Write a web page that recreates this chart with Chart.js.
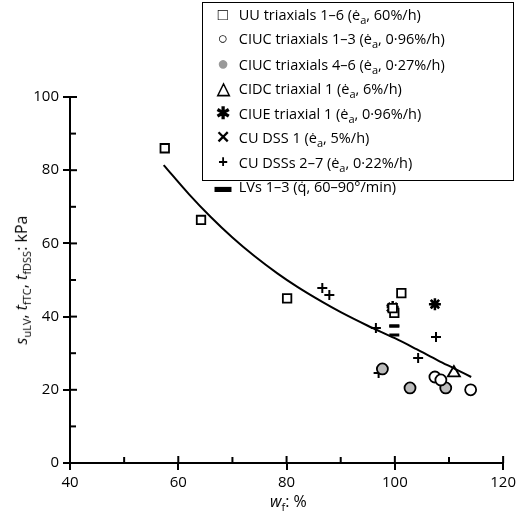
<!DOCTYPE html>
<html><head><meta charset="utf-8">
<script src="https://cdn.jsdelivr.net/npm/chart.js@4"></script>
<style>
body{margin:0;background:#fff;font-family:"Open Sans",sans-serif;}
#wrap{position:relative;width:520px;height:517px;}
#legend{position:absolute;left:202px;top:2px;width:312px;height:179px;border:1.5px solid #000;background:#fff;box-sizing:border-box;padding:2px 0 0 8px;font-size:14.5px;line-height:19.6px;color:#000;}
#legend div{white-space:nowrap;}
#legend span.m{display:inline-block;width:24px;text-align:center;font-weight:bold;font-size:17px;line-height:17px;}
.yt{position:absolute;left:-88px;top:268px;width:220px;text-align:center;transform:rotate(-90deg);font-size:16px;}
.xt{position:absolute;left:270px;top:490px;font-size:16px;}
sub{font-size:11px;}
</style></head><body>
<div id="wrap"><canvas id="c" width="520" height="517"></canvas>
<div id="legend"></div>
<div class="yt"><i>s</i><sub>uLV</sub>, <i>t</i><sub>fTC</sub>, <i>t</i><sub>fDSS</sub>: kPa</div>
<div class="xt"><i>w</i><sub>f</sub>: %</div>
</div>
<script>
const xTicks=[40,60,80,100,120];
const yTicks=[0,20,40,60,80,100];
const uuX=[57.5,64.2,80.1,101.2,99.9,99.6],uuY=[86,66.4,45,46.4,41,42.3];
const ciuc13X=[107.4,108.5,114],ciuc13Y=[23.5,22.7,20];
const ciuc46X=[97.7,102.8,109.4],ciuc46Y=[25.7,20.5,20.5];
const cidcX=[110.9],cidcY=[24.6];
const ciueX=[107.4,99.6],ciueY=[43.4,42.6];
const cudss1X=[107.4,99.2],cudss1Y=[43.4,42.4];
const cudssX=[86.6,87.9,96.5,107.6,104.3,97.0],cudssY=[47.8,45.9,36.9,34.4,28.7,24.6];
const lvX=[99.9,99.9,99.9],lvY=[37.4,35,37.4];
const fitX=[57.3,62,66,70,74,78.3,82,86.6,90,95,100,104,108,111,114.1];
const fitY=[81.4,73.4,67.2,61.6,56.6,51.8,48.1,44,41.2,37.5,34.1,31.1,28,25.8,23.5];
const labels=["UU triaxials 1–6 (ė<sub>a</sub>, 60%/h)","CIUC triaxials 1–3 (ė<sub>a</sub>, 0·96%/h)","CIUC triaxials 4–6 (ė<sub>a</sub>, 0·27%/h)","CIDC triaxial 1 (ė<sub>a</sub>, 6%/h)","CIUE triaxial 1 (ė<sub>a</sub>, 0·96%/h)","CU DSS 1 (ė<sub>a</sub>, 5%/h)","CU DSSs 2–7 (ė<sub>a</sub>, 0·22%/h)","LVs 1–3 (q̇, 60–90°/min)"];
const syms=["□","○","<span style='color:#999;font-size:20px'>●</span>","△","✱","✕","+","▬"];
document.getElementById('legend').innerHTML=labels.map((l,i)=>`<div><span class="m">${syms[i]}</span> ${l}</div>`).join('');
const pts=(xs,ys)=>xs.map((x,i)=>({x,y:ys[i]}));
function ds(xs,ys,style,bg,r,bw){return{data:pts(xs,ys),showLine:false,pointStyle:style,pointRadius:r,borderColor:'#000',backgroundColor:bg,pointBorderWidth:bw||1.8};}
const tickPlugin={id:'tk',afterDraw(ch){const c=ch.ctx,x=ch.scales.x,y=ch.scales.y;c.save();c.strokeStyle='#000';c.lineWidth=2;
for(let v=40;v<=120;v+=10){const p=x.getPixelForValue(v);c.beginPath();c.moveTo(p,y.bottom);c.lineTo(p,y.bottom-(v%20?6:7));c.stroke();}
for(let v=0;v<=100;v+=10){const p=y.getPixelForValue(v);c.beginPath();c.moveTo(x.left,p);c.lineTo(x.left+(v%20?6:7),p);c.stroke();}
c.restore();}};
new Chart(document.getElementById('c'),{type:'scatter',data:{datasets:[
{data:pts(fitX,fitY),showLine:true,pointRadius:0,borderColor:'#000',borderWidth:2,cubicInterpolationMode:'monotone',fill:false},
ds(uuX,uuY,'rect','#fff',6),
ds(ciuc13X,ciuc13Y,'circle','#fff',5.5),
ds(ciuc46X,ciuc46Y,'circle','#bbb',5.5),
ds(cidcX,cidcY,'triangle','#fff',7),
ds(ciueX,ciueY,'star','#000',6,2.5),
ds(cudss1X,cudss1Y,'crossRot','#000',5,2.5),
ds(cudssX,cudssY,'cross','#000',5,2),
ds(lvX,lvY,'line','#000',5,3)
]},options:{responsive:false,animation:false,events:[],
layout:{padding:{left:0,right:11,top:97,bottom:0}},
plugins:{legend:{display:false},tooltip:{enabled:false}},
scales:{
x:{type:'linear',min:40,max:120,afterFit(s){s.height=54;},afterBuildTicks(s){s.ticks=xTicks.map(v=>({value:v}));},border:{color:'#000',width:2},grid:{display:true,drawOnChartArea:false,color:'#000',lineWidth:2,tickLength:7},ticks:{color:'#000',font:{family:'Open Sans',size:15},padding:4}},
y:{type:'linear',min:0,max:100,afterFit(s){s.width=70;},afterBuildTicks(s){s.ticks=yTicks.map(v=>({value:v}));},border:{color:'#000',width:2},grid:{display:true,drawOnChartArea:false,color:'#000',lineWidth:2,tickLength:7},ticks:{color:'#000',font:{family:'Open Sans',size:15},padding:4}}
}},plugins:[tickPlugin]});
</script></body></html>
